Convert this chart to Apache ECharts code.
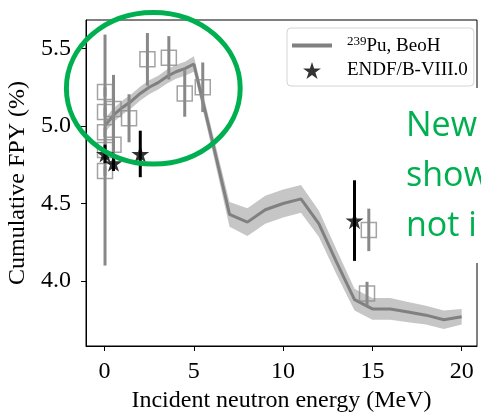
<!DOCTYPE html>
<html>
<head>
<meta charset="utf-8">
<script src="https://cdn.jsdelivr.net/npm/echarts@6/dist/echarts.min.js"></script>
<style>
  html, body { margin: 0; padding: 0; background: #fff; }
  #chart { width: 481px; height: 412px; }
</style>
</head>
<body>
<div id="chart"></div>
<script>
// BeoH calculation for 239Pu: cumulative fission product yield vs incident energy
const beohEnergy = [0, 0.5, 1, 1.5, 2, 2.5, 3, 3.5, 4, 4.5, 5, 6, 7, 8, 9, 10, 11, 12, 13, 14, 15, 16, 17, 18, 19, 20];
const beohFpy    = [5.00, 5.07, 5.12, 5.16, 5.21, 5.25, 5.28, 5.32, 5.35, 5.37, 5.40, 4.92, 4.43, 4.38, 4.46, 4.50, 4.53, 4.37, 4.12, 3.88, 3.82, 3.82, 3.80, 3.78, 3.75, 3.77];
const beohUnc    = [0.045, 0.045, 0.045, 0.045, 0.045, 0.045, 0.045, 0.045, 0.045, 0.045, 0.05, 0.06, 0.08, 0.09, 0.09, 0.09, 0.09, 0.085, 0.08, 0.07, 0.07, 0.07, 0.065, 0.06, 0.06, 0.05];

// Measured yields (open squares)
const exptEnergy = [0.0253, 0.0253, 0.0253, 0.0253, 0.0253, 0.5, 0.5, 1.37, 2.4, 3.6, 4.49, 5.5, 14.8, 14.7];
const exptFpy    = [5.22, 5.09, 4.96, 4.845, 4.71, 5.11, 4.88, 5.05, 5.43, 5.44, 5.21, 5.25, 4.33, 3.92];
const exptErr    = [0.03, 0.03, 0.03, 0.745, 0.03, 0.22, 0.10, 0.155, 0.17, 0.14, 0.15, 0.16, 0.137, 0.075];

// ENDF/B-VIII.0 evaluated yields
const endfEnergy = [0.0253, 0.5, 2.0, 14.0];
const endfFpy    = [4.82, 4.76, 4.82, 4.39];
const endfErr    = [0.06, 0.05, 0.15, 0.26];

// Axis ticks
const xTicks = [0, 5, 10, 15, 20];
const yTicks = [4.0, 4.5, 5.0, 5.5];

const SERIF = '"Liberation Serif", "Times New Roman", serif';
const GREEN = '#00B050';
const STAR = 'path://M0,-100L22.45,-30.9L95.1,-30.9L36.3,11.8L58.8,80.9L0,38.2L-58.8,80.9L-36.3,11.8L-95.1,-30.9L-22.45,-30.9Z';
const LINE_ICON = 'path://M0,0H40V4H0Z';

function errorBars(name, xs, ys, es, color, z) {
  return {
    type: 'custom',
    name: name,
    z: z,
    silent: true,
    data: xs.map((x, i) => [x, ys[i] - es[i], ys[i] + es[i]]),
    encode: { x: 0, y: [1, 2] },
    renderItem: function (params, api) {
      const p0 = api.coord([api.value(0), api.value(1)]);
      const p1 = api.coord([api.value(0), api.value(2)]);
      return {
        type: 'line',
        shape: { x1: p0[0], y1: p0[1], x2: p1[0], y2: p1[1] },
        style: { stroke: color, lineWidth: 3 }
      };
    }
  };
}

const chart = echarts.init(document.getElementById('chart'), null, { renderer: 'canvas' });

chart.setOption({
  animation: false,
  backgroundColor: '#fff',
  grid: {
    left: 86, top: 20, width: 391, height: 326,
    show: true, borderColor: '#000', borderWidth: 1,
    outerBoundsMode: 'none'
  },
  xAxis: {
    type: 'value',
    min: -1.04, max: 20.86,
    name: 'Incident neutron energy (MeV)',
    nameLocation: 'middle',
    nameGap: 42,
    nameTextStyle: { fontFamily: SERIF, fontSize: 24, color: '#000' },
    axisLine: { show: true, onZero: false, lineStyle: { color: '#000', width: 1 } },
    axisTick: { show: true, inside: false, length: 5, customValues: xTicks, lineStyle: { color: '#000' } },
    axisLabel: { customValues: xTicks, fontFamily: SERIF, fontSize: 24, color: '#000', margin: 14 },
    splitLine: { show: false }
  },
  yAxis: {
    type: 'value',
    min: 3.581, max: 5.684,
    name: 'Cumulative FPY (%)',
    nameLocation: 'middle',
    nameGap: 51,
    nameTextStyle: { fontFamily: SERIF, fontSize: 24, color: '#000' },
    axisLine: { show: true, onZero: false, lineStyle: { color: '#000', width: 1 } },
    axisTick: { show: true, inside: false, length: 5, customValues: yTicks, lineStyle: { color: '#000' } },
    axisLabel: {
      customValues: yTicks, fontFamily: SERIF, fontSize: 24, color: '#000', margin: 15,
      formatter: v => Number(v).toFixed(1)
    },
    splitLine: { show: false }
  },
  legend: {
    orient: 'vertical',
    left: 287, top: 28,
    itemWidth: 40, itemHeight: 17,
    itemGap: 5,
    padding: [7, 6, 6, 5],
    backgroundColor: '#fff',
    borderColor: '#d4d4d4',
    borderWidth: 1,
    borderRadius: 4,
    data: [
      { name: 'BeoH', icon: LINE_ICON, itemStyle: { color: '#808080' } },
      { name: 'ENDF/B-VIII.0' }
    ],
    formatter: function (name) {
      return name === 'BeoH' ? '{sup|239}{base|Pu, BeoH}' : '{base|ENDF/B-VIII.0}';
    },
    textStyle: {
      padding: [0, 0, 0, 10],
      color: '#000',
      fontFamily: SERIF,
      fontSize: 19,
      rich: {
        sup: { fontFamily: SERIF, fontSize: 13, color: '#000', verticalAlign: 'top', padding: [0, 0, 8, 0] },
        base: { fontFamily: SERIF, fontSize: 19, color: '#000', verticalAlign: 'bottom' }
      }
    }
  },
  series: [
    {
      type: 'custom',
      name: 'band',
      z: 1,
      silent: true,
      data: beohEnergy.map((x, i) => [x, beohFpy[i] - beohUnc[i], beohFpy[i] + beohUnc[i]]),
      encode: { x: 0, y: [1, 2] },
      renderItem: function (params, api) {
        if (params.dataIndex !== 0) return null;
        const pts = [];
        for (let i = 0; i < beohEnergy.length; i++) pts.push(api.coord([beohEnergy[i], beohFpy[i] + beohUnc[i]]));
        for (let i = beohEnergy.length - 1; i >= 0; i--) pts.push(api.coord([beohEnergy[i], beohFpy[i] - beohUnc[i]]));
        return { type: 'polygon', shape: { points: pts }, style: { fill: 'rgba(128,128,128,0.45)' } };
      }
    },
    {
      type: 'line',
      name: 'BeoH',
      z: 2,
      data: beohEnergy.map((x, i) => [x, beohFpy[i]]),
      symbol: 'none',
      lineStyle: { color: '#808080', width: 3 },
      itemStyle: { color: '#808080' }
    },
    errorBars('exptErr', exptEnergy, exptFpy, exptErr, '#888888', 3),
    {
      type: 'scatter',
      name: 'expt',
      z: 3,
      data: exptEnergy.map((x, i) => [x, exptFpy[i]]),
      symbol: 'rect',
      symbolSize: 15,
      itemStyle: { color: 'rgba(255,255,255,0)', borderColor: '#8c8c8c', borderWidth: 1.5 }
    },
    errorBars('endfErr', endfEnergy, endfFpy, endfErr, '#000000', 4),
    {
      type: 'scatter',
      name: 'ENDF/B-VIII.0',
      z: 5,
      data: endfEnergy.map((x, i) => [x, endfFpy[i]]),
      symbol: STAR,
      symbolSize: 18,
      symbolKeepAspect: true,
      itemStyle: { color: '#000' }
    }
  ],
  graphic: [
    { type: 'rect', z: 100, shape: { x: 385, y: 88, width: 100, height: 175 }, style: { fill: '#fff' } },
    { type: 'text', z: 101, x: 406, y: 126, style: { text: 'New', fill: GREEN, font: '34px "Open Sans"', verticalAlign: 'middle' } },
    { type: 'text', z: 101, x: 406, y: 176, style: { text: 'show', fill: GREEN, font: '34px "Open Sans"', verticalAlign: 'middle' } },
    { type: 'text', z: 101, x: 406, y: 226, style: { text: 'not i', fill: GREEN, font: '34px "Open Sans"', verticalAlign: 'middle' } },
    { type: 'ellipse', z: 102, shape: { cx: 153.3, cy: 88.3, rx: 86.9, ry: 75.8 }, style: { fill: 'none', stroke: GREEN, lineWidth: 5 } }
  ]
});
</script>
</body>
</html>
